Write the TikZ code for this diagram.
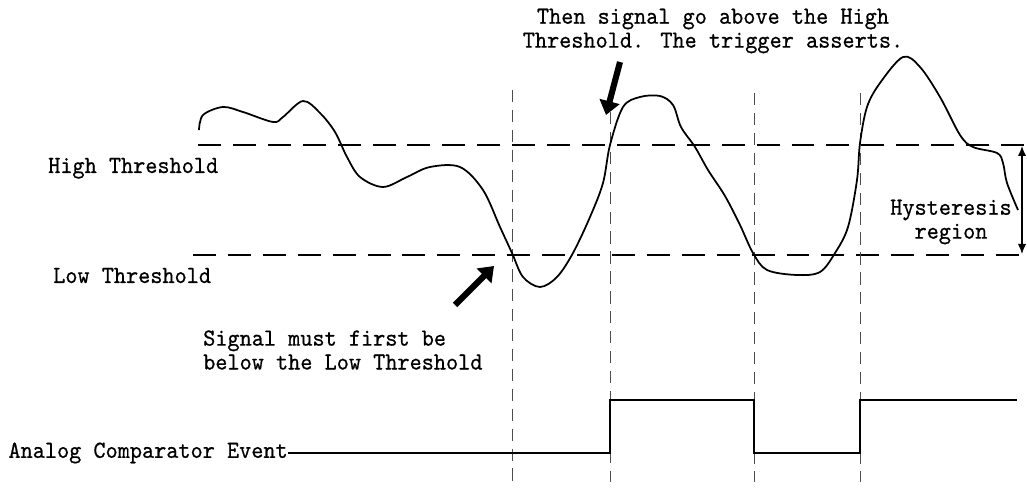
\documentclass[tikz,border=0pt]{standalone}
\usepackage{fontspec}
\usepackage{tikz}
\usetikzlibrary{arrows.meta}

\newfontfamily\lblfont{lmmono10-regular.otf}[FakeBold=0.6, FakeStretch=0.94]

\tikzset{
    lbl/.style={font=\lblfont\fontsize{21}{20.4}\selectfont, inner sep=0pt},
    thresh/.style={line width=1.8pt, dash pattern=on 19.6pt off 10.2pt},
    marker/.style={line width=0.7pt, black!70, dash pattern=on 10.5pt off 6.5pt},
    signal/.style={line width=1.5pt, line join=round},
    pulse/.style={line width=1.6pt},
    fatarrow/.style={line width=5.2pt, -{Triangle[length=0.42cm,width=0.6cm]}},
    span/.style={line width=1.2pt, {Latex[length=0.3cm,width=0.25cm]}-{Latex[length=0.3cm,width=0.25cm]}}
}

\begin{document}
\begin{tikzpicture}[x=0.03cm, y=-0.03cm]
            \useasboundingbox (0,0) rectangle (1027,489);

            % thresholds
            \coordinate (hiL) at (198,145);
            \coordinate (hiR) at (1027,145);
            \coordinate (loL) at (193,255);
            \coordinate (loR) at (1027,255);
            \draw[thresh] (hiL) -- (hiR);
            \draw[thresh] (loL) -- (loR);

            \node[lbl, anchor=base west] (high) at (48,173) {High Threshold};
            \node[lbl, anchor=base west] (low) at (53,283) {Low Threshold};

            % event markers
            \foreach \x/\t in {512/90,610/112,754/93,860/93}{
                \draw[marker] (\x,\t) -- (\x,482);
            }

            % analog signal
            \draw[signal] plot[smooth, tension=0.55] coordinates {
                (199,130) (203,115) (223,107) (243,112) (273,122) (283,117)
                (303,101) (320,113) (335,132) (347,157) (360,177) (383,187)
                (407,177) (430,167) (460,167) (483,190) (500,227) (512,253)
                (523,277) (540,287) (557,277) (573,253) (590,217) (603,183)
                (610,145) (623,107) (640,97) (660,96) (673,105) (681,127)
                (695,147) (708,170) (725,196) (740,225) (753,253) (767,270)
                (797,275) (820,272) (835,253) (848,227) (857,180) (860,143)
                (867,107) (880,83) (903,57) (920,67) (940,97) (960,135)
                (973,147) (997,153) (1003,163) (1007,183) (1018,210)};

            % hysteresis
            \coordinate (hyTop) at (1022,146);
            \coordinate (hyBot) at (1022,254);
            \draw[span] (hyTop) -- (hyBot);
            \node[lbl, align=center] (hyst) at (951,222) {Hysteresis\\region};

            % notes
            \node[lbl, align=center] (above) at (713,31) {Then signal go above the High\\Threshold. The trigger asserts.};
            \node[lbl, align=left, anchor=west] (below) at (203,350) {Signal must first be\\below the Low Threshold};

            \coordinate (aTail) at (455,305);
            \coordinate (aTip) at (494,266);
            \coordinate (bTail) at (620,62);
            \coordinate (bTip) at (606,115);
            \draw[fatarrow] (aTail) -- (aTip);
            \draw[fatarrow] (bTail) -- (bTip);

            % comparator output
            \node[lbl, anchor=east] (event) at (288,453) {Analog Comparator Event};
            \draw[pulse] (event.east) -| (610,400) -- (754,400) |- (860,453) |- (1017,400);
        \end{tikzpicture}
\end{document}
